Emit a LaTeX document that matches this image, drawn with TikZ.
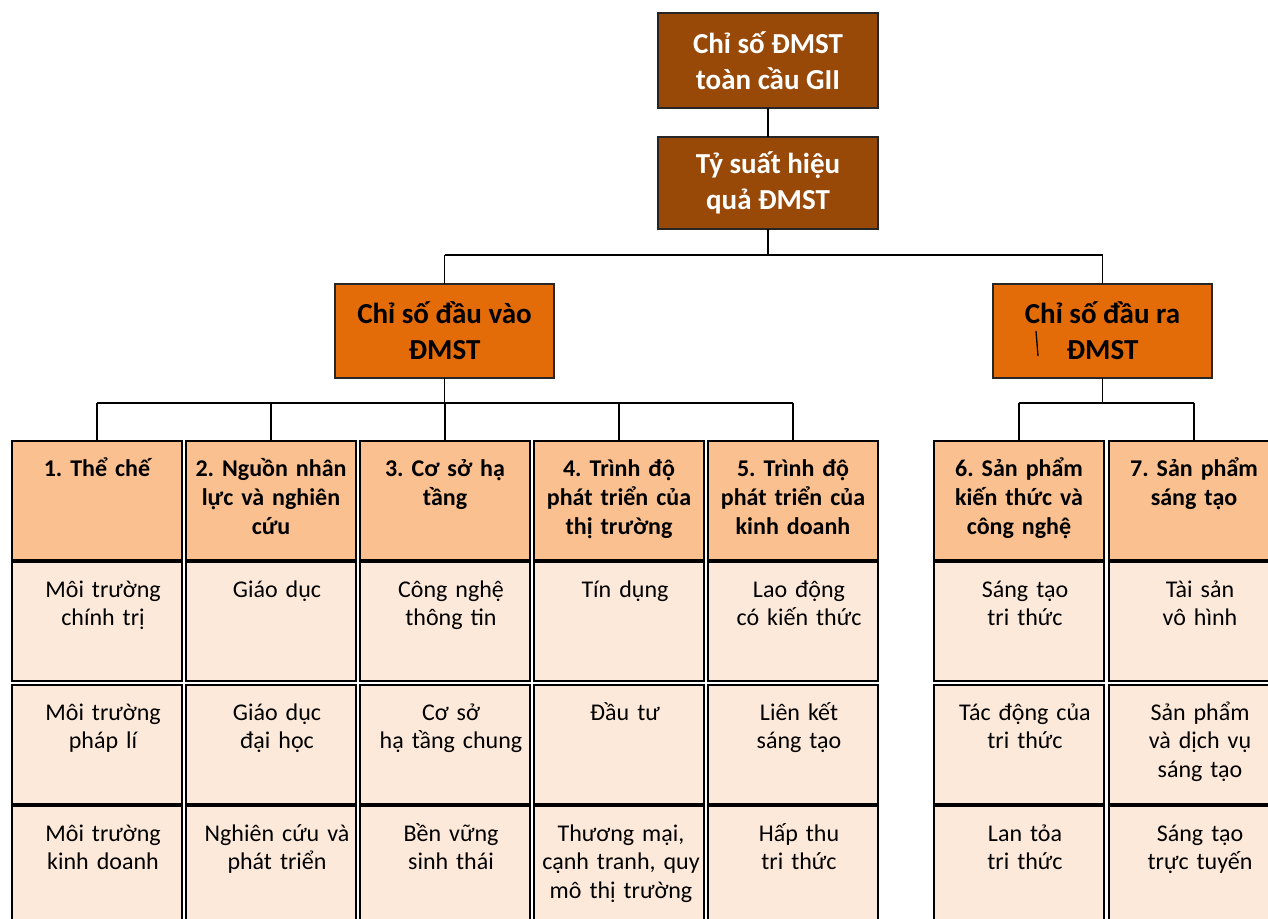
\documentclass[tikz,border=0pt]{standalone}
\usepackage{fontspec}
\setmainfont{Carlito}
\usetikzlibrary{calc}
\frenchspacing
\definecolor{darkbrown}{HTML}{984807}
\definecolor{midorange}{HTML}{E36C09}
\definecolor{headfill}{HTML}{FAC090}
\definecolor{cellfill}{HTML}{FDE9D9}
\tikzset{
  topbox/.style={draw=black!85, line width=1.6bp, fill=darkbrown, minimum width=220bp, inner sep=0pt, outer sep=0pt,
     text=white, font=\bfseries\fontsize{29bp}{36bp}\selectfont, align=center},
  lvlbox/.style={draw=black!85, line width=1.6bp, fill=midorange, minimum width=219bp, minimum height=94bp, inner sep=0pt, outer sep=0pt,
     text=black, font=\bfseries\fontsize{29bp}{36bp}\selectfont, align=center},
  headcell/.style={draw=black, line width=2.4bp, fill=headfill, minimum width=170bp, minimum height=119bp, inner sep=0pt, outer sep=0pt},
  headcell text/.style={font=\frenchspacing\bfseries\fontsize{24bp}{29bp}\selectfont, text width=170bp, align=center, inner sep=0pt},
  bodycell/.style={draw=black, line width=2.4bp, fill=cellfill, minimum width=170bp, minimum height=119bp, inner sep=0pt, outer sep=0pt},
  bodycell text/.style={font=\frenchspacing\fontsize{24bp}{28.5bp}\selectfont, text width=170bp, align=center, inner sep=0pt},
  conn/.style={draw=black, line width=1.9bp},
}
\newcommand\mkcell[6]{%
  \node[#4, anchor=north west] (#1) at (#2,#3) {};
  \node[#4 text, anchor=base] (#1t) at ($(#1.north)+(#5,35)$) {#6};}
\begin{document}
\begin{tikzpicture}[x=1bp, y=-1bp]
\useasboundingbox (0,0) rectangle (1268,919);
\fill[white] (0,0) rectangle (1268,919);

% top levels
\node[topbox, minimum height=95bp] (gii) at (768,60.5) {Chỉ số ĐMST\\toàn cầu GII};
\node[topbox, minimum height=92bp] (eff) at (768,183) {Tỷ suất hiệu\\quả ĐMST};
\node[lvlbox] (inp) at (444.5,331) {Chỉ số đầu vào\\ĐMST};
\node[lvlbox] (out) at (1102.5,331) {Chỉ số đầu ra\\ĐMST};
\draw[line width=1.3bp] (1036,331) -- (1038,356);

% header cells
\mkcell{h1}{12}{441}{headcell}{0}{1. Thể chế}
\mkcell{h2}{186}{441}{headcell}{0}{2. Nguồn nhân\\lực và nghiên\\cứu}
\mkcell{h3}{360}{441}{headcell}{0}{3. Cơ sở hạ\\tầng}
\mkcell{h4}{534}{441}{headcell}{0}{4. Trình độ\\phát triển của\\thị trường}
\mkcell{h5}{708}{441}{headcell}{0}{5. Trình độ\\phát triển của\\kinh doanh}
\mkcell{h6}{934}{441}{headcell}{0}{6. Sản phẩm\\kiến thức và\\công nghệ}
\mkcell{h7}{1109}{441}{headcell}{0}{7. Sản phẩm\\sáng tạo}

% row 1
\mkcell{a1}{12}{562}{bodycell}{6}{Môi trường\\chính trị}
\mkcell{a2}{186}{562}{bodycell}{6}{Giáo dục}
\mkcell{a3}{360}{562}{bodycell}{6}{Công nghệ\\thông tin}
\mkcell{a4}{534}{562}{bodycell}{6}{Tín dụng}
\mkcell{a5}{708}{562}{bodycell}{6}{Lao động\\có kiến thức}
\mkcell{a6}{934}{562}{bodycell}{6}{Sáng tạo\\tri thức}
\mkcell{a7}{1109}{562}{bodycell}{6}{Tài sản\\vô hình}

% row 2
\mkcell{b1}{12}{685}{bodycell}{6}{Môi trường\\pháp lí}
\mkcell{b2}{186}{685}{bodycell}{6}{Giáo dục\\đại học}
\mkcell{b3}{360}{685}{bodycell}{6}{Cơ sở\\hạ tầng chung}
\mkcell{b4}{534}{685}{bodycell}{6}{Đầu tư}
\mkcell{b5}{708}{685}{bodycell}{6}{Liên kết\\sáng tạo}
\mkcell{b6}{934}{685}{bodycell}{6}{Tác động của\\tri thức}
\mkcell{b7}{1109}{685}{bodycell}{6}{Sản phẩm\\và dịch vụ\\sáng tạo}

% row 3
\mkcell{d1}{12}{806}{bodycell}{6}{Môi trường\\kinh doanh}
\mkcell{d2}{186}{806}{bodycell}{6}{Nghiên cứu và\\phát triển}
\mkcell{d3}{360}{806}{bodycell}{6}{Bền vững\\sinh thái}
\mkcell{d4}{534}{806}{bodycell}{2}{Thương mại,\\cạnh tranh, quy\\mô thị trường}
\mkcell{d5}{708}{806}{bodycell}{6}{Hấp thu\\tri thức}
\mkcell{d6}{934}{806}{bodycell}{6}{Lan tỏa\\tri thức}
\mkcell{d7}{1109}{806}{bodycell}{6}{Sáng tạo\\trực tuyến}

% connectors
\coordinate (busA) at (0,255);
\coordinate (busB) at (0,403);
\draw[conn] (gii.south) -- (eff.north);
\draw[conn] (eff.south) -- (eff.south |- busA);
\draw[conn] (busA -| inp.north) -- (busA -| out.north);
\draw[conn] (busA -| inp.north) -- (inp.north);
\draw[conn] (busA -| out.north) -- (out.north);
\draw[conn] (inp.south) -- (inp.south |- busB);
\draw[conn] (busB -| h1.north) -- (busB -| h5.north);
\foreach \c in {h1,h2,h3,h4,h5} {\draw[conn] (busB -| \c.north) -- (\c.north);}
\draw[conn] (out.south) -- (out.south |- busB);
\draw[conn] (busB -| h6.north) -- (busB -| h7.north);
\foreach \c in {h6,h7} {\draw[conn] (busB -| \c.north) -- (\c.north);}
\end{tikzpicture}
\end{document}
